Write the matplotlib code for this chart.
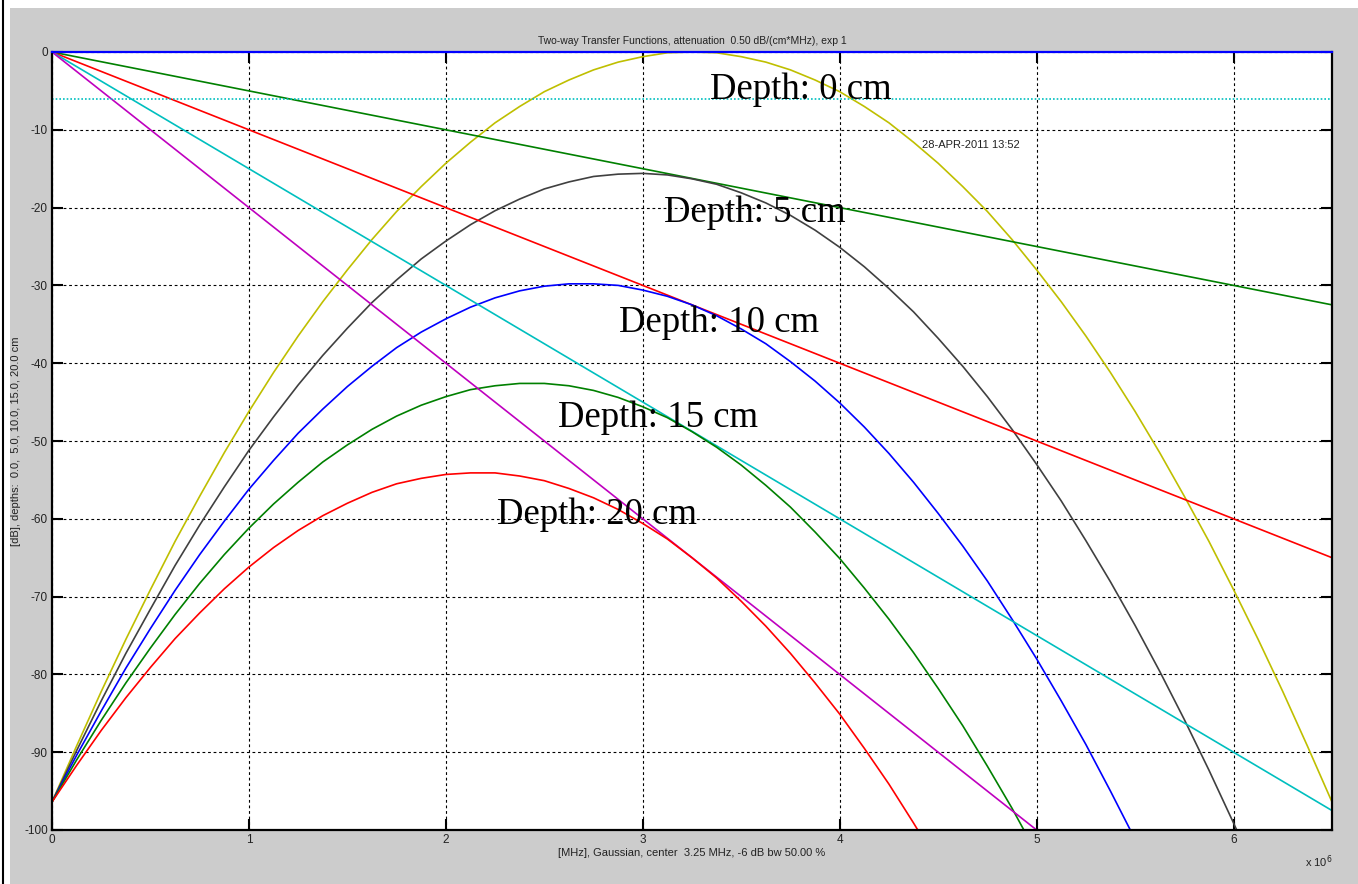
import matplotlib.pyplot as plt
from matplotlib.patches import Rectangle
from matplotlib.lines import Line2D

plt.rcParams["axes.unicode_minus"] = False

# frequency grid, MHz (axis is in Hz, x 10^6)
freq_mhz = [0.0, 0.125, 0.25, 0.375, 0.5, 0.625, 0.75, 0.875, 1.0, 1.125, 1.25, 1.375, 1.5,
            1.625, 1.75, 1.875, 2.0, 2.125, 2.25, 2.375, 2.5, 2.625, 2.75, 2.875, 3.0, 3.125,
            3.25, 3.375, 3.5, 3.625, 3.75, 3.875, 4.0, 4.125, 4.25, 4.375, 4.5, 4.625, 4.75,
            4.875, 5.0, 5.125, 5.25, 5.375, 5.5, 5.625, 5.75, 5.875, 6.0, 6.125, 6.25, 6.375, 6.5]

# transducer response (depth 0 cm) and combined responses, dB
depth0 = [-96.4, -89.2, -82.2, -75.5, -69.1, -62.9, -57.1, -51.5, -46.2, -41.2, -36.5, -32.1, -28.0,
          -24.1, -20.5, -17.3, -14.3, -11.6, -9.1, -7.0, -5.1, -3.6, -2.3, -1.3, -0.6, -0.1,
          0.0, -0.1, -0.6, -1.3, -2.3, -3.6, -5.1, -7.0, -9.1, -11.6, -14.3, -17.3, -20.5,
          -24.1, -28.0, -32.1, -36.5, -41.2, -46.2, -51.5, -57.1, -62.9, -69.1, -75.5, -82.2, -89.2, -96.4]
depth5 = [-96.4, -89.8, -83.4, -77.3, -71.6, -66.0, -60.8, -55.9, -51.2, -46.9, -42.8, -39.0, -35.5,
          -32.2, -29.3, -26.6, -24.3, -22.2, -20.4, -18.9, -17.6, -16.7, -16.0, -15.7, -15.6, -15.8,
          -16.3, -17.0, -18.1, -19.4, -21.0, -22.9, -25.1, -27.6, -30.4, -33.4, -36.8, -40.4, -44.3,
          -48.5, -53.0, -57.7, -62.8, -68.1, -73.7, -79.6, -85.8, -92.3, -99.1, -106.1, -113.4, -121.0, -128.9]
depth10 = [-96.4, -90.4, -84.7, -79.2, -74.1, -69.2, -64.6, -60.3, -56.2, -52.5, -49.0, -45.9, -43.0,
           -40.4, -38.0, -36.0, -34.3, -32.8, -31.6, -30.7, -30.1, -29.8, -29.8, -30.0, -30.6, -31.4,
           -32.5, -33.9, -35.6, -37.5, -39.8, -42.3, -45.1, -48.2, -51.6, -55.3, -59.3, -63.5, -68.0,
           -72.9, -78.0, -83.4, -89.0, -95.0, -101.2, -107.8, -114.6, -121.7, -129.1, -136.7, -144.7, -152.9, -161.4]
depth15 = [-96.4, -91.0, -85.9, -81.1, -76.6, -72.3, -68.3, -64.6, -61.2, -58.1, -55.3, -52.7, -50.5,
           -48.5, -46.8, -45.4, -44.3, -43.4, -42.9, -42.6, -42.6, -42.9, -43.5, -44.4, -45.6, -47.0,
           -48.8, -50.8, -53.1, -55.7, -58.5, -61.7, -65.1, -68.9, -72.9, -77.2, -81.8, -86.6, -91.8,
           -97.2, -103.0, -109.0, -115.3, -121.9, -128.7, -135.9, -143.3, -151.0, -159.1, -167.3, -175.9, -184.8, -193.9]
depth20 = [-96.4, -91.7, -87.2, -83.0, -79.1, -75.4, -72.1, -69.0, -66.2, -63.7, -61.5, -59.6, -58.0,
           -56.6, -55.5, -54.8, -54.3, -54.1, -54.1, -54.5, -55.1, -56.1, -57.3, -58.8, -60.6, -62.6,
           -65.0, -67.6, -70.6, -73.8, -77.3, -81.1, -85.1, -89.5, -94.1, -99.1, -104.3, -109.8, -115.5,
           -121.6, -128.0, -134.6, -141.5, -148.7, -156.2, -164.0, -172.1, -180.4, -189.1, -198.0, -207.2, -216.7, -226.4]

# two-way attenuation only, 5/10/15/20 cm
att_freq_mhz = [0.0, 6.5]
att5 = [0.0, -32.5]
att10 = [0.0, -65.0]
att15 = [0.0, -97.5]
att20 = [0.0, -130.0]

minus6 = -6.0

labels = ["Depth: 0 cm", "Depth: 5 cm", "Depth: 10 cm", "Depth: 15 cm", "Depth: 20 cm"]
label_x_mhz = [3.34, 3.11, 2.88, 2.57, 2.26]
label_y = [-4.9, -20.6, -34.8, -47.0, -59.5]

c_yel = (0.75, 0.75, 0.0)
c_grn = (0.0, 0.5, 0.0)
c_mag = (0.75, 0.0, 0.75)
c_cya = (0.0, 0.75, 0.75)
c_gry = (0.25, 0.25, 0.25)

fig = plt.figure(figsize=(13.58, 8.84), dpi=100, facecolor="white")
fig.patches.append(Rectangle((10 / 1358, 0), 1, 1 - 8 / 884, transform=fig.transFigure,
                             facecolor="#cccccc", edgecolor="none", zorder=-10))
fig.lines.append(Line2D([3 / 1358, 3 / 1358], [0, 1], transform=fig.transFigure,
                        color="black", lw=1.5))

ax = fig.add_axes([52 / 1358, 1 - 830 / 884, 1280 / 1358, 778 / 884])

hz = [f * 1e6 for f in freq_mhz]
ahz = [f * 1e6 for f in att_freq_mhz]
lw = 1.2
ax.plot(hz, depth0, color=c_yel, lw=lw)
ax.plot(ahz, att5, color=c_grn, lw=lw)
ax.plot(hz, depth5, color=c_gry, lw=lw)
ax.plot(ahz, att10, color="red", lw=lw)
ax.plot(hz, depth10, color="blue", lw=lw)
ax.plot(ahz, att15, color=c_cya, lw=lw)
ax.plot(hz, depth15, color=c_grn, lw=lw)
ax.plot(ahz, att20, color=c_mag, lw=lw)
ax.plot(hz, depth20, color="red", lw=lw)
ax.axhline(minus6, color=c_cya, lw=1.2, ls=(0, (1, 1.2)))

for t, x, y in zip(labels, label_x_mhz, label_y):
    ax.text(x * 1e6, y, t, fontsize=26.5, family="Liberation Serif", va="center", ha="left")
ax.text(4.42e6, -12.0, "28-APR-2011 13:52", fontsize=8, family="Liberation Sans",
        va="center", ha="left", color="#222222")

ax.set_xlim(0, 6.5e6)
ax.set_ylim(-100, 0)
ax.set_xticks([i * 1e6 for i in range(7)])
ax.set_xticklabels([str(i) for i in range(7)])
ax.set_yticks(range(-100, 1, 10))
ax.grid(True, color="black", ls=(0, (2.5, 2.5)), lw=0.8)
ax.tick_params(direction="in", length=8, width=1.5, top=True, right=True,
               labelsize=8.5, colors="black", labelcolor="#222222", pad=3)
for lab in ax.get_xticklabels() + ax.get_yticklabels():
    lab.set_family("Liberation Sans")
for s in ax.spines.values():
    s.set_linewidth(1.6)
ax.spines["top"].set_color("blue")

ax.set_title("Two-way Transfer Functions, attenuation  0.50 dB/(cm*MHz), exp 1",
             fontsize=7.5, family="Liberation Sans", pad=6, color="#222222")
ax.set_xlabel("[MHz], Gaussian, center  3.25 MHz, -6 dB bw 50.00 %",
              fontsize=8, family="Liberation Sans", color="#222222", labelpad=1)
ax.set_ylabel("[dB], depths:  0.0,  5.0, 10.0, 15.0, 20.0 cm",
              fontsize=8, family="Liberation Sans", color="#222222")
ax.yaxis.set_label_coords(-0.024, 0.5)
fig.text(1305 / 1358, 1 - 862 / 884, r"x 10$^6$", fontsize=8, family="Liberation Sans",
         color="#222222", va="center", ha="left")

fig.savefig("out.png", dpi=100, facecolor=fig.get_facecolor())
